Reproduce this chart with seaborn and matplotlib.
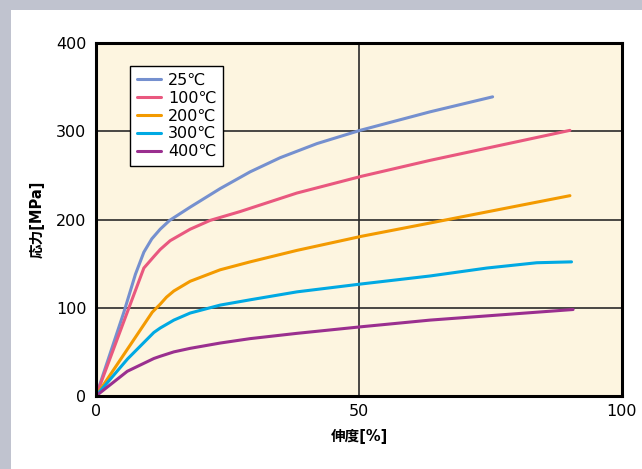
import matplotlib
matplotlib.use("Agg")
import matplotlib.pyplot as plt
import seaborn as sns
import pandas as pd
from matplotlib.patches import Rectangle

# ---- data ----
labels = ["25℃", "100℃", "200℃", "300℃", "400℃"]
x_25 = [0, 5.3, 7.5, 9.1, 10.6, 12.2, 14.0, 17.9, 23.6, 29.3, 35.0, 42.0, 50.2, 63.5, 75.4]
y_25 = [0, 95, 138, 163, 178, 189, 199, 214, 235, 254, 270, 286, 301, 322, 339]
x_100 = [0, 5.95, 9.1, 11.0, 12.2, 14.1, 17.9, 21.7, 27.4, 38.2, 50.5, 63.5, 90.1]
y_100 = [0, 95, 145, 158, 166, 176, 189, 199, 209, 230, 249, 267, 301]
x_200 = [0, 10.7, 12.2, 13.4, 14.8, 17.9, 23.6, 29.3, 38.2, 50.5, 63.5, 90.1]
y_200 = [0, 95, 104, 112, 119, 130, 143, 152, 165, 181, 196, 227]
x_300 = [0, 6.0, 11.0, 12.2, 14.8, 17.9, 23.6, 29.3, 38.2, 50.5, 63.5, 74.3, 83.8, 90.4]
y_300 = [0, 42, 72, 77, 86, 94, 103, 109, 118, 127, 136, 145, 151, 152]
x_400 = [0, 5.95, 11.0, 12.2, 14.8, 17.9, 23.6, 29.3, 38.2, 50.5, 63.5, 90.7]
y_400 = [0, 28, 42.5, 45, 50, 54, 60, 65, 71, 78.5, 86, 98]
x_ticks = [0, 50, 100]
y_ticks = [0, 100, 200, 300, 400]

colors = ["#7590cf", "#e9587f", "#f39a00", "#00a9e3", "#9a2f8f"]

xs = [x_25, x_100, x_200, x_300, x_400]
ys = [y_25, y_100, y_200, y_300, y_400]
rows = []
for lab, xx, yy in zip(labels, xs, ys):
    for a, b in zip(xx, yy):
        rows.append({"伸度": a, "応力": b, "温度": lab})
df = pd.DataFrame(rows)

sns.set_theme(style="white")
plt.rcParams["font.family"] = ["DejaVu Sans", "Noto Sans CJK JP"]
plt.rcParams["text.color"] = "black"
plt.rcParams["axes.labelcolor"] = "black"

fig = plt.figure(figsize=(6.42, 4.69), dpi=100)
fig.patch.set_facecolor("white")
# grey frame strips (top and left)
fig.patches.append(Rectangle((0, 1 - 10 / 469), 1, 10 / 469, transform=fig.transFigure,
                             facecolor="#c0c3cf", edgecolor="none", zorder=0))
fig.patches.append(Rectangle((0, 0), 11 / 642, 1, transform=fig.transFigure,
                             facecolor="#c0c3cf", edgecolor="none", zorder=0))

ax = fig.add_axes([96 / 642, 1 - 396 / 469, (622 - 96) / 642, (396 - 43) / 469])
ax.set_facecolor("#fdf5e0")

sns.lineplot(data=df, x="伸度", y="応力", hue="温度", hue_order=labels,
             palette=colors, estimator=None, sort=False, linewidth=2.2, ax=ax)

ax.set_xlim(0, 100)
ax.set_ylim(0, 400)
ax.set_xticks(x_ticks)
ax.set_yticks(y_ticks)
ax.tick_params(axis="both", length=0, labelsize=11.5, colors="black")
ax.tick_params(axis="y", pad=7)
ax.tick_params(axis="x", pad=6)

for v in [100, 200, 300]:
    ax.axhline(v, color="#2a2a2a", lw=1.2, zorder=0.5)
ax.axvline(50, color="#2a2a2a", lw=1.2, zorder=0.5)

for s in ax.spines.values():
    s.set_color("black")
    s.set_linewidth(2.2)

ax.set_xlabel("伸度[%]", fontsize=10.5, fontweight="bold", labelpad=7, color="black",
              family=["DejaVu Sans", "Noto Sans CJK JP"])
ax.set_ylabel("応力[MPa]", fontsize=10.5, fontweight="bold", labelpad=8, color="black",
              family=["DejaVu Sans", "Noto Sans CJK JP"])

leg = ax.legend(loc="upper left", bbox_to_anchor=((130 - 96) / 526, (396 - 66) / 353),
                borderaxespad=0, frameon=True,
                fontsize=11.5, handlelength=1.55, handletextpad=0.4,
                labelspacing=0.18, borderpad=0.42, fancybox=False, title=None)
leg.get_frame().set_edgecolor("black")
leg.get_frame().set_linewidth(1.0)
leg.get_frame().set_facecolor("white")
leg.get_frame().set_alpha(1)
for t in leg.get_texts():
    t.set_color("black")

fig.savefig("out.png", dpi=100)
